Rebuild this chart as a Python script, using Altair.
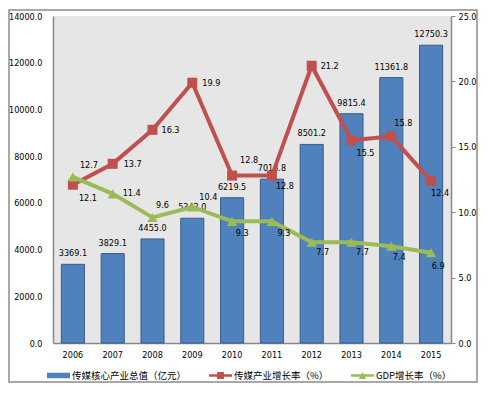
import altair as alt
import pandas as pd

years = ["2006", "2007", "2008", "2009", "2010", "2011", "2012", "2013", "2014", "2015"]
core_value = [3369.1, 3829.1, 4455.0, 5342.0, 6219.5, 7013.8, 8501.2, 9815.4, 11361.8, 12750.3]
media_growth = [12.1, 13.7, 16.3, 19.9, 12.8, 12.8, 21.2, 15.5, 15.8, 12.4]
gdp_growth = [12.7, 11.4, 9.6, 10.4, 9.3, 9.3, 7.7, 7.7, 7.4, 6.9]
series_names = ["传媒核心产业总值（亿元）", "传媒产业增长率（%）", "GDP增长率（%）"]

left_ticks = [0, 2000, 4000, 6000, 8000, 10000, 12000, 14000]
right_ticks = [0, 5, 10, 15, 20, 25]

# label placement: pixel offsets of each value label from its point
media_dx = [15, 20, 18, 19, 17, 13, 18, 14, 12, 9]
media_dy = [13, 0, 0, 0, -16, 10, 0, 13, -13, 12]
gdp_dx = [16, 19, 10, 16, 10, 12, 11, 11, 8, 7]
gdp_dy = [-12, -1, -12, -10, 12, 12, 10, 10, 11, 13]

BLUE, BLUE_EDGE = "#4F81BD", "#385D8A"
RED, GREEN = "#C0504D", "#9BBB59"
NUM_FONT = "DejaVu Sans Condensed"
CJK_FONT = "Noto Sans CJK SC"

bars_df = pd.DataFrame({"year": years, "value": core_value})
media_df = pd.DataFrame({"year": years, "rate": media_growth})
gdp_df = pd.DataFrame({"year": years, "rate": gdp_growth})
legend_df = pd.DataFrame({"series": series_names})
frame_df = pd.DataFrame({"k": [0]})

x_enc = alt.X(
    "year:N", sort=years,
    scale=alt.Scale(paddingInner=0.42, paddingOuter=0.21),
    axis=alt.Axis(title=None, labelAngle=0, ticks=False, tickSize=0, domainColor="#888888",
                  domainWidth=1.5, labelPadding=7),
)
y_left = alt.Y(
    "value:Q", scale=alt.Scale(domain=[0, 14000], nice=False),
    axis=alt.Axis(title=None, orient="left", values=left_ticks, format=".1f", ticks=False,
                  tickSize=0, grid=False, domainColor="#888888", domainWidth=1.5, labelPadding=11),
)
y_right = alt.Y(
    "rate:Q", scale=alt.Scale(domain=[0, 25], nice=False),
    axis=alt.Axis(title=None, orient="right", values=right_ticks, format=".1f", tickSize=4,
                  tickColor="#888888", grid=False, domainColor="#888888", domainWidth=1.5,
                  labelPadding=3),
)

bars = alt.Chart(bars_df).mark_bar(color=BLUE, stroke=BLUE_EDGE, strokeWidth=1).encode(
    x=x_enc, y=y_left
)
bar_text = alt.Chart(bars_df).mark_text(font=NUM_FONT, fontSize=9, color="black", dy=-11).encode(
    x=alt.X("year:N", sort=years), y=alt.Y("value:Q"), text=alt.Text("value:Q", format=".1f")
)
left_layer = alt.layer(bars, bar_text)


def rate_layers(df, color, shape, size, dxs, dys):
    line = alt.Chart(df).mark_line(color=color, strokeWidth=4).encode(
        x=alt.X("year:N", sort=years), y=y_right
    )
    pts = alt.Chart(df).mark_point(filled=True, opacity=1, shape=shape, size=size, color=color).encode(
        x=alt.X("year:N", sort=years), y=alt.Y("rate:Q")
    )
    texts = []
    for yr, dx, dy in zip(years, dxs, dys):
        texts.append(
            alt.Chart(df).transform_filter(alt.datum.year == yr)
            .mark_text(font=NUM_FONT, fontSize=9, color="black", dx=dx, dy=dy)
            .encode(x=alt.X("year:N", sort=years), y=alt.Y("rate:Q"),
                    text=alt.Text("rate:Q", format=".1f"))
        )
    return line, pts, texts


m_line, m_pts, m_txt = rate_layers(media_df, RED, "square", 100, media_dx, media_dy)
g_line, g_pts, g_txt = rate_layers(gdp_df, GREEN, "triangle-up", 110, gdp_dx, gdp_dy)
right_layer = alt.layer(m_line, g_line, m_pts, g_pts, *m_txt, *g_txt)

legend_paths = [
    "M-1,-0.24H1V0.24H-1Z",
    "M-1,-0.11H1V0.11H-1Z M-0.3,-0.3H0.3V0.3H-0.3Z",
    "M-1,-0.11H1V0.11H-1Z M-0.32,0.3L0,-0.3L0.32,0.3Z",
]
legend_kw = dict(title=None, orient="none", legendX=-6, legendY=348, direction="horizontal",
                 symbolSize=529, labelFont=CJK_FONT, labelFontSize=9.5, labelColor="black",
                 labelOffset=2, columnPadding=22, symbolStrokeWidth=0)
legend_layer = alt.Chart(legend_df).mark_point(filled=True, opacity=1).encode(
    x=alt.value(0), y=alt.value(-1000),
    color=alt.Color("series:N", scale=alt.Scale(domain=series_names, range=[BLUE, RED, GREEN]),
                    legend=alt.Legend(**legend_kw)),
    shape=alt.Shape("series:N", scale=alt.Scale(domain=series_names, range=legend_paths),
                    legend=alt.Legend(**legend_kw)),
)

frame = alt.Chart(frame_df).mark_rect(filled=False, stroke="#8c8c8c", strokeWidth=1.5).encode(
    x=alt.value(-44), x2=alt.value(424), y=alt.value(-6), y2=alt.value(366)
)

chart = alt.layer(left_layer, right_layer, legend_layer, frame).resolve_scale(
    y="independent"
).properties(
    width=398, height=327,
    autosize=alt.AutoSizeParams(type="none"),
    padding={"left": 45, "top": 8, "right": 28, "bottom": 41},
).configure_view(
    fill="#E6E6E6", stroke=None
).configure_axis(
    labelFont=NUM_FONT, labelFontSize=9, labelColor="black"
)

chart.save("out.html", embed_options={"renderer": "svg", "actions": False})
